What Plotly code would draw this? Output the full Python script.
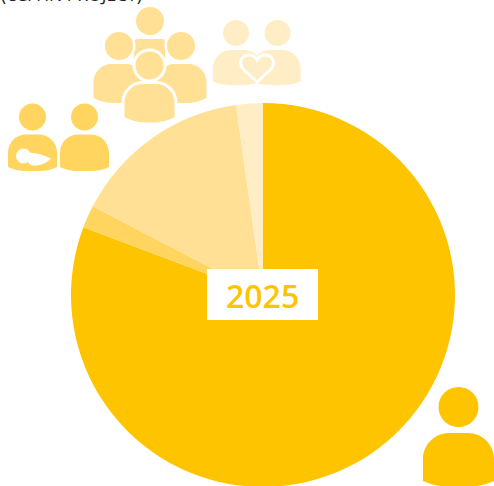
import plotly.graph_objects as go

W, H = 494, 488
categories = ["Single", "Parents with baby", "Families and groups", "Couples"]
shares = [80.75, 1.9, 15.1, 2.25]
colors = ["#FFC400", "#FFD45F", "#FFE095", "#FFEEC5"]
year_label = "2025"
clipped_title = "(USA IN PROJECT)"

PIE_L, PIE_R, PIE_T, PIE_B = 71, 455, 103, 487


def X(x):
    return x / W


def Y(y):
    return 1 - y / H


def P(x, y):
    return f"{X(x):.5f} {Y(y):.5f}"


shapes = []


def add(shape):
    shape.update(xref="paper", yref="paper", layer="above")
    shapes.append(shape)


def circle(cx, cy, r, fill, line=None, lw=0):
    add(dict(type="circle", x0=X(cx - r), x1=X(cx + r), y0=Y(cy + r), y1=Y(cy - r),
             fillcolor=fill, line=dict(color=line or fill, width=lw)))


def body(x0, x1, top, side, bottom, fill, corner=None, line=None, lw=0):
    w = x1 - x0
    c = corner if corner is not None else w * 0.37
    mid = (x0 + x1) / 2
    p = (f"M {P(x0, side)} L {P(x0, top + c)} "
         f"C {P(x0, top + c * .45)} {P(x0 + c * .45, top)} {P(x0 + c, top)} "
         f"L {P(x1 - c, top)} "
         f"C {P(x1 - c * .45, top)} {P(x1, top + c * .45)} {P(x1, top + c)} "
         f"L {P(x1, side)} "
         f"C {P(x1 - w * .2, bottom + .6)} {P(mid + w * .12, bottom)} {P(mid, bottom)} "
         f"C {P(mid - w * .12, bottom)} {P(x0 + w * .2, bottom + .6)} {P(x0, side)} Z")
    add(dict(type="path", path=p, fillcolor=fill, line=dict(color=line or fill, width=lw)))


# single person
c = colors[0]
circle(458.5, 407, 20, c)
body(423, 494, 433, 481, 487, c, corner=26)

# parents with baby
c = colors[1]
circle(32.5, 117, 13.5, c)
body(8, 57, 134.5, 167, 171, c, corner=18)
circle(84.5, 117, 13.5, c)
body(60, 109, 134.5, 167, 171, c, corner=18)
circle(23.5, 156, 7.5, "#FFFFFF")
add(dict(type="path",
         path=(f"M {P(29, 152.5)} C {P(36, 153)} {P(44, 155)} {P(51, 158.5)} "
               f"C {P(47, 163)} {P(40, 166)} {P(33, 165.5)} "
               f"C {P(28, 165)} {P(26, 160)} {P(29, 152.5)} Z"),
         fillcolor="#FFFFFF", line=dict(color="#FFFFFF", width=0)))

# families and groups
c = colors[2]
body(134, 165, 39, 75, 76, c, corner=3)
circle(150, 21, 14, c)
body(93.5, 144, 64, 98, 103, c, corner=18)
body(156, 206.5, 64, 98, 103, c, corner=18)
circle(119, 46, 15.3, c, "#FFFFFF", 2.5)
circle(181, 46, 15.3, c, "#FFFFFF", 2.5)
circle(149.5, 65.5, 15.5, c, "#FFFFFF", 3)
body(123, 176, 82.5, 118, 124, c, corner=20, line="#FFFFFF", lw=3)

# couples
c = colors[3]
circle(236, 33, 13, c)
circle(277.5, 33, 13, c)
body(213, 262, 50, 81.5, 85, c, corner=18)
body(252, 300.5, 50, 81.5, 85, c, corner=18)
add(dict(type="path",
         path=(f"M {P(257, 82)} L {P(244, 70)} "
               f"C {P(237, 62)} {P(242, 55)} {P(249, 55)} "
               f"C {P(253, 55)} {P(255.5, 57)} {P(257, 60)} "
               f"C {P(258.5, 57)} {P(261, 55)} {P(265, 55)} "
               f"C {P(272, 55)} {P(277, 62)} {P(270, 70)} Z"),
         fillcolor=c, line=dict(color="#FFFFFF", width=2.8)))

# year box
add(dict(type="rect", x0=X(207), x1=X(318), y0=Y(320), y1=Y(269),
         fillcolor="#FFFFFF", line=dict(width=0)))

fig = go.Figure(go.Pie(
    labels=categories, values=shares, sort=False, direction="clockwise", rotation=0,
    marker=dict(colors=colors, line=dict(width=0)), textinfo="none", hoverinfo="skip",
    showlegend=False,
    domain=dict(x=[PIE_L / W, PIE_R / W], y=[1 - PIE_B / H, 1 - PIE_T / H]),
))
fig.update_layout(
    width=W, height=H, margin=dict(l=0, r=0, t=0, b=0),
    paper_bgcolor="#FFFFFF", shapes=shapes,
    annotations=[
        dict(text=year_label, x=X(262.5), y=Y(295), xref="paper", yref="paper",
             showarrow=False, xanchor="center", yanchor="middle",
             font=dict(family="Open Sans", size=32, color=colors[0], weight=600)),
        dict(text=clipped_title, x=X(-1), y=Y(8), xref="paper", yref="paper",
             showarrow=False, xanchor="left", yanchor="bottom",
             font=dict(family="Open Sans", size=17.5, color="#222222")),
    ],
)
fig.write_html("out.html", config=dict(displayModeBar=False),
               post_script="document.body.style.margin='0';document.body.style.overflow='hidden';")
